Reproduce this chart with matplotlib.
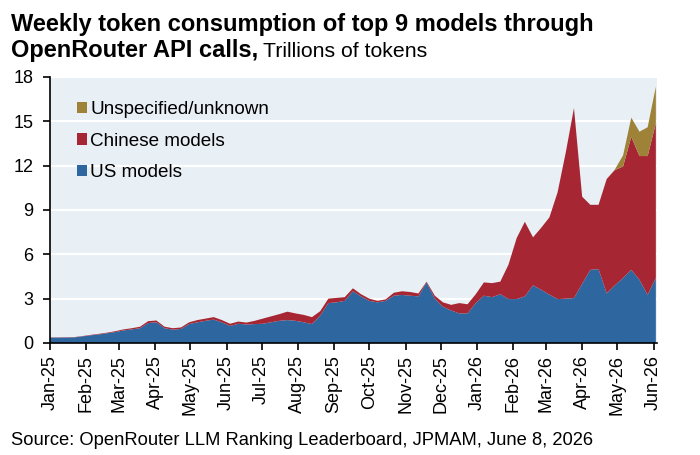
import matplotlib
matplotlib.use("Agg")
import matplotlib.pyplot as plt
import matplotlib.dates as mdates
import numpy as np
import pandas as pd

plt.rcParams['font.family'] = ['Liberation Sans', 'DejaVu Sans']

weeks = pd.date_range("2025-01-01", periods=75, freq="7D")

us_models = [0.36, 0.36, 0.37, 0.38, 0.45, 0.52, 0.58, 0.66, 0.74, 0.85,
             0.92, 1.00, 1.35, 1.40, 1.00, 0.90, 0.95, 1.28, 1.40, 1.50,
             1.58, 1.40, 1.15, 1.30, 1.25, 1.28, 1.30, 1.40, 1.50, 1.55,
             1.50, 1.40, 1.28, 1.85, 2.70, 2.75, 2.85, 3.50, 3.15, 2.85,
             2.75, 2.85, 3.20, 3.25, 3.20, 3.15, 4.10, 3.00, 2.45, 2.20,
             2.00, 2.00, 2.70, 3.20, 3.10, 3.30, 2.97, 2.97, 3.15, 3.90,
             3.60, 3.27, 2.97, 3.00, 3.04, 4.00, 4.95, 5.00, 3.36, 3.90,
             4.40, 4.95, 4.27, 3.25, 4.40]

total_known = [0.38, 0.38, 0.39, 0.40, 0.47, 0.55, 0.62, 0.70, 0.80, 0.92,
               1.00, 1.10, 1.48, 1.52, 1.10, 1.00, 1.05, 1.40, 1.55, 1.65,
               1.75, 1.55, 1.30, 1.45, 1.38, 1.50, 1.65, 1.80, 1.95, 2.12,
               2.00, 1.90, 1.75, 2.15, 3.00, 3.05, 3.10, 3.70, 3.30, 3.00,
               2.85, 2.95, 3.40, 3.50, 3.45, 3.35, 4.15, 3.20, 2.75, 2.58,
               2.70, 2.62, 3.30, 4.10, 4.05, 4.15, 5.30, 7.10, 8.20, 7.15,
               7.80, 8.50, 10.20, 12.90, 15.90, 9.90, 9.35, 9.35, 11.10, 11.70,
               11.95, 13.95, 12.65, 12.65, 14.87]

unknown = [0.0] * 69 + [0.05, 0.75, 1.30, 1.65, 1.95, 2.48]

chinese_models = [t - u for t, u in zip(total_known, us_models)]

labels = ["US models", "Chinese models", "Unspecified/unknown"]
colors = ["#2e66a0", "#a72633", "#9d8238"]

fig = plt.figure(figsize=(7.0, 4.55), dpi=100)
ax = fig.add_axes([0.0714, 0.2462, 0.8672, 0.5846])
ax.set_facecolor("#e8f0f5")

x = mdates.date2num(weeks)
ax.stackplot(x, us_models, chinese_models, unknown,
             colors=colors, labels=labels, linewidth=0, zorder=2)

ax.set_ylim(0, 18)
ax.set_yticks([0, 3, 6, 9, 12, 15, 18])
ax.set_xlim(mdates.date2num(pd.Timestamp("2025-01-01")),
            mdates.date2num(pd.Timestamp("2026-06-04")))
months = pd.date_range("2025-01-01", "2026-06-01", freq="MS")
ax.set_xticks(mdates.date2num(months))
ax.set_xticklabels([m.strftime("%b-%y") for m in months], rotation=90)

ax.grid(axis="y", color="white", linewidth=1.6, zorder=1)
ax.set_axisbelow(True)
for s in ["top", "right"]:
    ax.spines[s].set_visible(False)
ax.spines["left"].set_linewidth(1.2)
ax.spines["bottom"].set_linewidth(1.2)
ax.tick_params(axis="both", labelsize=13, length=5, width=1.2, direction="out")
ax.tick_params(axis="y", pad=7)
ax.tick_params(axis="x", pad=3.5)

handles, lbls = ax.get_legend_handles_labels()
ax.legend(handles[::-1], lbls[::-1], loc="upper left",
          bbox_to_anchor=(0.044, 0.91), frameon=False, fontsize=13.6,
          handlelength=0.53, handleheight=0.53, handletextpad=0.2,
          labelspacing=0.78, borderaxespad=0, borderpad=0)

fig.text(0.016, 1 - 31 / 455, "Weekly token consumption of top 9 models through",
         fontsize=17, fontweight="bold", va="baseline", ha="left")
t2 = fig.text(0.016, 1 - 57 / 455, "OpenRouter API calls,", fontsize=17,
              fontweight="bold", va="baseline", ha="left")
fig.canvas.draw()
bb = t2.get_window_extent()
fig.text((bb.x1 + 5) / fig.bbox.width, 1 - 57 / 455, "Trillions of tokens",
         fontsize=15.3, va="baseline", ha="left")

fig.text(0.016, 1 - 445 / 455,
         "Source: OpenRouter LLM Ranking Leaderboard, JPMAM, June 8, 2026",
         fontsize=13.2, va="baseline", ha="left")

fig.savefig("out.png", dpi=100)
